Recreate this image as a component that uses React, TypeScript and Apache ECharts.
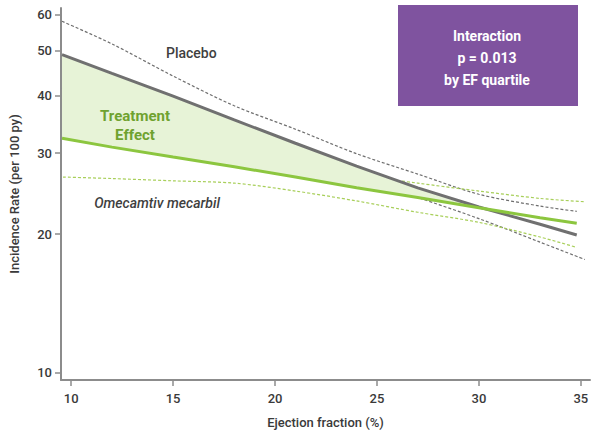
import React, { useEffect, useRef } from "react";
import * as echarts from "echarts";

// Ejection fraction (x) and incidence rate (y, per 100 py)
const placeboEF = [9.55, 12, 15, 18, 21, 24, 27, 30, 33, 34.8];
const placeboRate = [49.1, 44.7, 39.9, 35.4, 31.5, 28.1, 25.2, 22.9, 21.0, 19.9];

const omecamtivEF = [9.55, 12, 15, 18, 21, 24, 27, 30, 33, 34.8];
const omecamtivRate = [32.3, 30.9, 29.4, 28.0, 26.6, 25.2, 24.0, 22.8, 21.7, 21.1];

const placeboUpperEF = [9.55, 12, 15, 18, 21, 24, 27, 30, 33, 34.8];
const placeboUpper = [58.0, 51.8, 44.1, 38.0, 33.8, 29.9, 27.0, 24.4, 23.0, 22.4];

const placeboLowerEF = [9.55, 12, 15, 18, 21, 24, 27, 30, 33, 35.2];
const placeboLower = [41.6, 38.6, 36.1, 33.0, 29.4, 26.4, 24.0, 21.6, 19.2, 17.6];

const omecamtivUpperEF = [9.55, 12, 15, 18, 21, 24, 27, 30, 33, 35.2];
const omecamtivUpper = [39.2, 36.2, 33.1, 30.4, 28.5, 26.9, 25.8, 24.8, 23.9, 23.5];

const omecamtivLowerEF = [9.6, 12, 15, 18, 21, 24, 27, 30, 33, 34.8];
const omecamtivLower = [26.6, 26.4, 26.1, 25.8, 24.8, 23.6, 22.3, 21.2, 19.7, 18.7];

const xTicks = [10, 15, 20, 25, 30, 35];
const yTicks = [10, 20, 30, 40, 50, 60];

// treatment effect region extends up to where the two curves meet
const fillEndEF = 30;

const pairs = (xs: number[], ys: number[]) => xs.map((x, i) => [x, ys[i]]);

const FONT = "Roboto, 'Noto Sans', sans-serif";

export default function App() {
  const ref = useRef<HTMLDivElement>(null);

  useEffect(() => {
    if (!ref.current) return;
    const chart = echarts.init(ref.current, undefined, { renderer: "svg" });

    const dashedLine = (name: string, xs: number[], ys: number[], color: string) => ({
      name,
      type: "line",
      data: pairs(xs, ys),
      showSymbol: false,
      symbol: "none",
      smooth: 0.3,
      z: 1,
      lineStyle: { color, width: 1.2, type: [3, 2] },
    });

    const fillTop = pairs(placeboEF, placeboRate).filter((p) => p[0] <= fillEndEF);
    const fillBottom = pairs(omecamtivEF, omecamtivRate).filter((p) => p[0] <= fillEndEF);

    chart.setOption({
      animation: false,
      grid: { left: 61, right: 5, top: 8, bottom: 59 },
      xAxis: {
        type: "value",
        min: 9.5,
        max: 35.45,
        name: "Ejection fraction (%)",
        nameLocation: "middle",
        nameGap: 36,
        nameTextStyle: { fontFamily: FONT, fontSize: 13, fontWeight: 500, color: "#3a3a3a" },
        axisLine: { show: true, lineStyle: { color: "#8c8c8c", width: 2 } },
        axisTick: { show: true, length: 6, customValues: xTicks, lineStyle: { color: "#8c8c8c", width: 1.5 } },
        axisLabel: { customValues: xTicks, margin: 12, fontFamily: FONT, fontSize: 13, fontWeight: 500, color: "#3a3a3a" },
        splitLine: { show: false },
      },
      yAxis: {
        type: "log",
        logBase: 10,
        min: 9.63,
        max: 62,
        name: "Incidence Rate (per 100 py)",
        nameLocation: "middle",
        nameGap: 40,
        nameTextStyle: { fontFamily: FONT, fontSize: 13, fontWeight: 500, color: "#3a3a3a" },
        axisLine: { show: true, lineStyle: { color: "#8c8c8c", width: 2 } },
        axisTick: { show: true, length: 6, customValues: yTicks, lineStyle: { color: "#8c8c8c", width: 1.5 } },
        axisLabel: { customValues: yTicks, margin: 9, fontFamily: FONT, fontSize: 13, fontWeight: 500, color: "#3a3a3a" },
        splitLine: { show: false },
      },
      series: [
        dashedLine("Placebo upper", placeboUpperEF, placeboUpper, "#6f6f6f"),
        dashedLine("Placebo lower", placeboLowerEF, placeboLower, "#6f6f6f"),
        dashedLine("Omecamtiv upper", omecamtivUpperEF, omecamtivUpper, "#a8cf5a"),
        dashedLine("Omecamtiv lower", omecamtivLowerEF, omecamtivLower, "#a8cf5a"),
        {
          name: "Treatment effect",
          type: "custom",
          z: 2,
          data: [[20, 30]],
          renderItem: (_params: any, api: any) => {
            const pts = fillTop
              .map((p) => api.coord(p))
              .concat(fillBottom.slice().reverse().map((p) => api.coord(p)));
            return {
              type: "polygon",
              shape: { points: pts },
              style: { fill: "#e7f3d7", stroke: "none" },
            };
          },
        },
        {
          name: "Placebo",
          type: "line",
          data: pairs(placeboEF, placeboRate),
          showSymbol: false,
          symbol: "none",
          z: 3,
          lineStyle: { color: "#707070", width: 3 },
        },
        {
          name: "Omecamtiv mecarbil",
          type: "line",
          data: pairs(omecamtivEF, omecamtivRate),
          showSymbol: false,
          symbol: "none",
          z: 4,
          lineStyle: { color: "#8cc63f", width: 3 },
        },
      ],
      graphic: [
        {
          type: "text",
          left: 166,
          top: 46,
          style: { text: "Placebo", font: `500 14px ${FONT}`, fill: "#3f3f3f" },
          z: 10,
        },
        {
          type: "text",
          x: 135,
          y: 125,
          style: {
            text: "Treatment\nEffect",
            font: `bold 15px ${FONT}`,
            fill: "#6fa22f",
            align: "center",
            verticalAlign: "middle",
            lineHeight: 19,
          },
          z: 10,
        },
        {
          type: "text",
          x: 157,
          y: 203,
          style: {
            text: "Omecamtiv mecarbil",
            font: `italic 500 14px ${FONT}`,
            fill: "#3f3f3f",
            align: "center",
            verticalAlign: "middle",
          },
          z: 10,
        },
        {
          type: "rect",
          shape: { x: 398, y: 5, width: 180, height: 101 },
          style: { fill: "#7f539f" },
          z: 10,
        },
        {
          type: "text",
          x: 487,
          y: 58,
          style: {
            text: "Interaction\np = 0.013\nby EF quartile",
            font: `bold 14px ${FONT}`,
            fill: "#ffffff",
            align: "center",
            verticalAlign: "middle",
            lineHeight: 22,
          },
          z: 11,
        },
      ],
    });

    return () => chart.dispose();
  }, []);

  return (
    <div
      ref={ref}
      style={{ position: "fixed", left: 0, top: 0, width: 595, height: 439, background: "#ffffff" }}
    />
  );
}
